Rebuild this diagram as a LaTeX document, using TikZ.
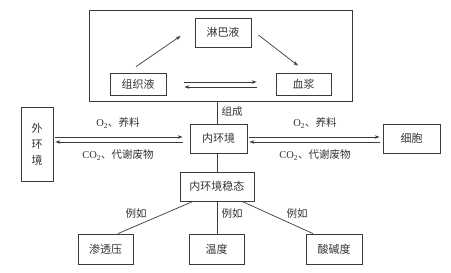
\documentclass[tikz,border=0pt]{standalone}
\usepackage{fontspec}
\newfontfamily\cjk{Noto Sans CJK SC}
\newfontfamily\lat{Liberation Serif}
\usetikzlibrary{arrows.meta}
\definecolor{linec}{HTML}{3A3A3A}
\definecolor{txt}{HTML}{333333}
\begin{document}
\begin{tikzpicture}[x=1pt,y=-1pt,
  box/.style={draw=linec, line width=0.8pt, inner sep=0pt, text=txt,
    font=\cjk\fontsize{11}{16}\selectfont, align=center},
  lbl/.style={text=txt, inner sep=1pt, font=\cjk\fontsize{10.5}{12}\selectfont},
  conn/.style={draw=linec, line width=0.7pt},
  arr/.style={conn, -{Stealth[length=5pt,width=3.5pt]}}]
\useasboundingbox (0,0) rectangle (451,273);
% nodes
\node[box, minimum width=263pt, minimum height=91pt] (outer) at (220.5,55.5) {};
\node[box, minimum width=56pt, minimum height=29pt] (lb) at (223,32.5) {淋巴液};
\node[box, minimum width=56pt, minimum height=22pt] (zzy) at (138,84) {组织液};
\node[box, minimum width=55pt, minimum height=22pt] (xj) at (303.5,84) {血浆};
\node[box, minimum width=57pt, minimum height=29pt] (nhj) at (218.5,138.5) {内环境};
\node[box, minimum width=32pt, minimum height=74pt] (whj) at (37,144) {外\\环\\境};
\node[box, minimum width=57pt, minimum height=29pt] (xb) at (411.5,138.5) {细胞};
\node[box, minimum width=74pt, minimum height=29pt] (wd) at (217,186.5) {内环境稳态};
\node[box, minimum width=55pt, minimum height=30pt] (stl) at (105.5,249) {渗透压};
\node[box, minimum width=55pt, minimum height=30pt] (wdu) at (216.5,249) {温度};
\node[box, minimum width=56pt, minimum height=30pt] (sjd) at (334,249) {酸碱度};
% top triangle
\draw[arr] ([xshift=-2pt,yshift=6pt]zzy.north) -- ([xshift=-14pt,yshift=-3.5pt]lb.west);
\draw[arr] ([xshift=7pt,yshift=-2.5pt]lb.east) -- ([xshift=-5.5pt,yshift=7pt]xj.north);
\draw[arr] ([xshift=18pt,yshift=2pt]zzy.east) -- ([xshift=-19pt,yshift=2pt]xj.west);
\draw[arr] ([xshift=-19pt,yshift=-3pt]xj.west) -- ([xshift=18pt,yshift=-3pt]zzy.east);
% vertical links
\draw[conn] (nhj.north -| wd.north) -- (outer.south -| wd.north);
\node[lbl] (zc) at (232,112) {组成};
\draw[conn] (nhj.south -| wd.north) -- (wd.north);
% left exchange
\draw[arr] ([xshift=2pt,yshift=7pt]whj.east) -- ([xshift=-7pt,yshift=1.5pt]nhj.west);
\draw[arr] ([xshift=-7pt,yshift=-3.5pt]nhj.west) -- ([xshift=2pt,yshift=2pt]whj.east);
\node[lbl] (o2a) at (118,123) {{\lat O\textsubscript{2}}、养料};
\node[lbl] (co2a) at (118,155) {{\lat CO\textsubscript{2}}、代谢废物};
% right exchange
\draw[arr] ([xshift=2pt,yshift=1.5pt]nhj.east) -- ([xshift=-3pt,yshift=1.5pt]xb.west);
\draw[arr] ([xshift=-3pt,yshift=-3.5pt]xb.west) -- ([xshift=2pt,yshift=-3.5pt]nhj.east);
\node[lbl] (o2b) at (315,123) {{\lat O\textsubscript{2}}、养料};
\node[lbl] (co2b) at (315,155) {{\lat CO\textsubscript{2}}、代谢废物};
% examples
\draw[conn] ([xshift=-24pt]wd.south) -- ([xshift=12.5pt]stl.north);
\draw[conn] (wd.south) -- (wd.south |- wdu.north);
\draw[conn] ([xshift=25pt]wd.south) -- ([xshift=-21pt]sjd.north);
\node[lbl] (e1) at (136,214) {例如};
\node[lbl] (e2) at (232,214) {例如};
\node[lbl] (e3) at (297,214) {例如};
\end{tikzpicture}
\end{document}
